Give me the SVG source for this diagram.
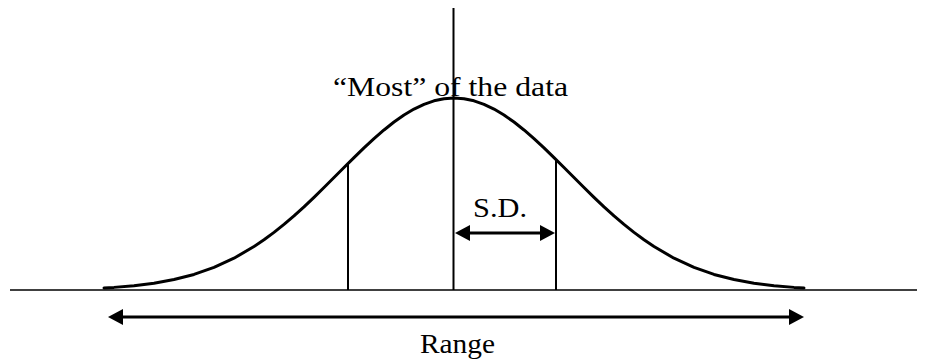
<svg xmlns="http://www.w3.org/2000/svg" width="938" height="364" viewBox="0 0 938 364">
<style>
.lbl{font-family:"Liberation Serif","Times New Roman",serif;font-size:28px;fill:#000}
.ln{stroke:#000;fill:none}
.arr{stroke:#000;stroke-width:3;fill:none;marker-start:url(#ah);marker-end:url(#ah)}
</style>
<defs>
<marker id="ah" markerUnits="userSpaceOnUse" markerWidth="15" markerHeight="16" refX="10" refY="8" orient="auto-start-reverse" viewBox="0 0 15 16">
<path d="M0,0 L15,8 L0,16 z" fill="#000"/>
</marker>
</defs>
<rect width="938" height="364" fill="#fff"/>
<g id="axes">
<line class="ln" x1="10" y1="290" x2="917" y2="290" stroke-width="1.6" stroke="#222"/>
<line class="ln" x1="453.5" y1="8" x2="453.5" y2="290" stroke-width="2"/>
</g>
<g id="curve">
<polyline class="ln" stroke-width="3" stroke-linejoin="round" stroke-linecap="round" points="104,287.97 114,287.38 134,285.73 154,283.23 174,279.57 194,274.43 214,267.42 234,258.21 254,246.57 264,239.79 274,232.4 284,224.4 294,215.84 304,206.79 314,197.31 324,187.54 334,177.56 344,167.53 354,157.59 364,147.9 374,138.64 384,129.96 394,122.04 404,115.03 414,109.08 424,104.31 434,100.83 444,98.71 454,98 464,98.71 474,100.83 484,104.31 494,109.08 504,115.03 514,122.04 524,129.96 534,138.64 544,147.9 554,157.59 564,167.53 574,177.56 584,187.54 594,197.31 604,206.79 614,215.84 624,224.4 634,232.4 644,239.79 654,246.57 674,258.21 694,267.42 714,274.43 734,279.57 754,283.23 774,285.73 794,287.38 804,287.97"/>
</g>
<g id="sd-lines">
<line class="ln" x1="348" y1="163.5" x2="348" y2="290" stroke-width="2"/>
<line class="ln" x1="556" y1="159.5" x2="556" y2="290" stroke-width="2"/>
</g>
<g id="connectors">
<line class="arr" x1="460" y1="233" x2="550" y2="233"/>
<line class="arr" x1="113" y1="317" x2="799" y2="317"/>
</g>
<g id="labels">
<text class="lbl" x="333" y="96" textLength="235" lengthAdjust="spacingAndGlyphs">“Most” of the data</text>
<text class="lbl" x="473" y="217" textLength="54" lengthAdjust="spacingAndGlyphs">S.D.</text>
<text class="lbl" x="420" y="353" textLength="75" lengthAdjust="spacingAndGlyphs">Range</text>
</g>
</svg>
